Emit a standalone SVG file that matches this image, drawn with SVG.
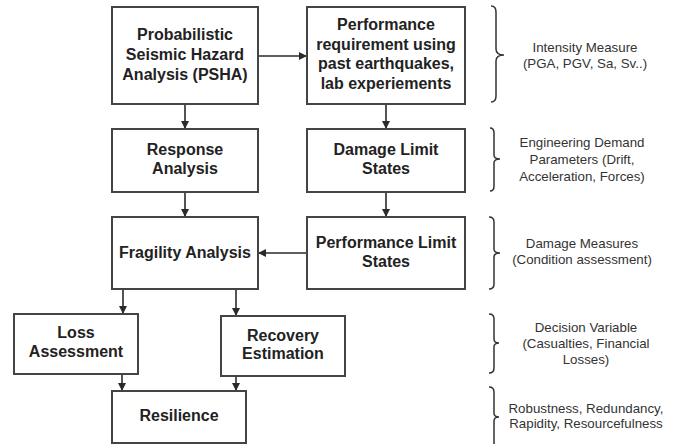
<svg xmlns="http://www.w3.org/2000/svg" width="680" height="444" viewBox="0 0 680 444">
<defs>
<marker id="ah" viewBox="0 0 10 10" refX="10" refY="5" markerWidth="9" markerHeight="8" markerUnits="userSpaceOnUse" orient="auto">
<path d="M0,0 L10,5 L0,10 Z" fill="#2a2a2a"/>
</marker>
</defs>
<style>
.box{fill:#fff;stroke:#444;stroke-width:2}
.bt{font-family:"Liberation Sans",Arial,sans-serif;font-weight:bold;font-size:16px;fill:#222;text-anchor:middle}
.rt{font-family:"Liberation Sans",Arial,sans-serif;font-size:13.3px;fill:#333;text-anchor:middle}
.con{stroke:#2a2a2a;stroke-width:1.6;fill:none;marker-end:url(#ah)}
.br{stroke:#333;stroke-width:1.5;fill:none}
</style>
<rect width="680" height="444" fill="#fff"/>

<g id="connectors">
<line class="con" x1="258" y1="56" x2="307" y2="56"/>
<line class="con" x1="185" y1="104" x2="185" y2="129"/>
<line class="con" x1="386" y1="104" x2="386" y2="129"/>
<line class="con" x1="185" y1="192" x2="185" y2="217"/>
<line class="con" x1="386" y1="192" x2="386" y2="217"/>
<line class="con" x1="307" y1="253" x2="258" y2="253"/>
<line class="con" x1="123" y1="289" x2="123" y2="314"/>
<line class="con" x1="236" y1="289" x2="236" y2="316"/>
<line class="con" x1="122" y1="374" x2="122" y2="391"/>
<line class="con" x1="236" y1="376" x2="236" y2="391"/>
</g>

<g id="psha">
<rect class="box" x="112" y="7" width="146" height="97"/>
<text class="bt" x="185" y="40">Probabilistic</text>
<text class="bt" x="185" y="60">Seismic Hazard</text>
<text class="bt" x="185" y="80">Analysis (PSHA)</text>
</g>
<g id="perfreq">
<rect class="box" x="307" y="7" width="158" height="97"/>
<text class="bt" x="386" y="30">Performance</text>
<text class="bt" x="386" y="49.5">requirement using</text>
<text class="bt" x="386" y="69">past earthquakes,</text>
<text class="bt" x="386" y="88.5">lab experiements</text>
</g>
<g id="response">
<rect class="box" x="112" y="129" width="146" height="63"/>
<text class="bt" x="185" y="155">Response</text>
<text class="bt" x="185" y="174">Analysis</text>
</g>
<g id="damagelimit">
<rect class="box" x="307" y="129" width="158" height="63"/>
<text class="bt" x="386" y="155">Damage Limit</text>
<text class="bt" x="386" y="174">States</text>
</g>
<g id="fragility">
<rect class="box" x="112" y="217" width="146" height="72"/>
<text class="bt" x="185" y="257.5">Fragility Analysis</text>
</g>
<g id="perflimit">
<rect class="box" x="307" y="217" width="158" height="72"/>
<text class="bt" x="386" y="247.5">Performance Limit</text>
<text class="bt" x="386" y="267">States</text>
</g>
<g id="loss">
<rect class="box" x="14" y="314" width="124" height="60"/>
<text class="bt" x="76" y="338">Loss</text>
<text class="bt" x="76" y="357">Assessment</text>
</g>
<g id="recovery">
<rect class="box" x="221" y="316" width="124" height="60"/>
<text class="bt" x="283" y="341">Recovery</text>
<text class="bt" x="283" y="359">Estimation</text>
</g>
<g id="resilience">
<rect class="box" x="112" y="391" width="134" height="52"/>
<text class="bt" x="179" y="421">Resilience</text>
</g>

<g id="braces">
<path class="br" d="M491,6 Q496,6 496,12 L496,49 Q496,55 504,55 Q496,55 496,61 L496,96 Q496,102 491,102"/>
<path class="br" d="M490,128 Q494,128 494,133 L494,155 Q494,159 500,159 Q494,159 494,163 L494,186 Q494,191 490,191"/>
<path class="br" d="M489,217 Q494,217 494,222 L494,249 Q494,253 500,253 Q494,253 494,257 L494,284 Q494,289 489,289"/>
<path class="br" d="M489,314 Q494,314 494,319 L494,339 Q494,343 499,343 Q494,343 494,347 L494,368 Q494,373 489,373"/>
<path class="br" d="M489,387 Q494,387 494,392 L494,413 Q494,417 499,417 Q494,417 494,421 L494,450"/>
</g>

<g id="labels">
<text class="rt" x="585" y="51.5">Intensity Measure</text>
<text class="rt" x="585" y="68">(PGA, PGV, Sa, Sv..)</text>
<text class="rt" x="582" y="146.5">Engineering Demand</text>
<text class="rt" x="582" y="163.5">Parameters (Drift,</text>
<text class="rt" x="582" y="180.5">Acceleration, Forces)</text>
<text class="rt" x="582" y="247.5">Damage Measures</text>
<text class="rt" x="582" y="263.5">(Condition assessment)</text>
<text class="rt" x="586" y="331.5">Decision Variable</text>
<text class="rt" x="586" y="347.5">(Casualties, Financial</text>
<text class="rt" x="586" y="363.5">Losses)</text>
<text class="rt" x="586" y="412.5">Robustness, Redundancy,</text>
<text class="rt" x="586" y="427.5">Rapidity, Resourcefulness</text>
</g>
</svg>
